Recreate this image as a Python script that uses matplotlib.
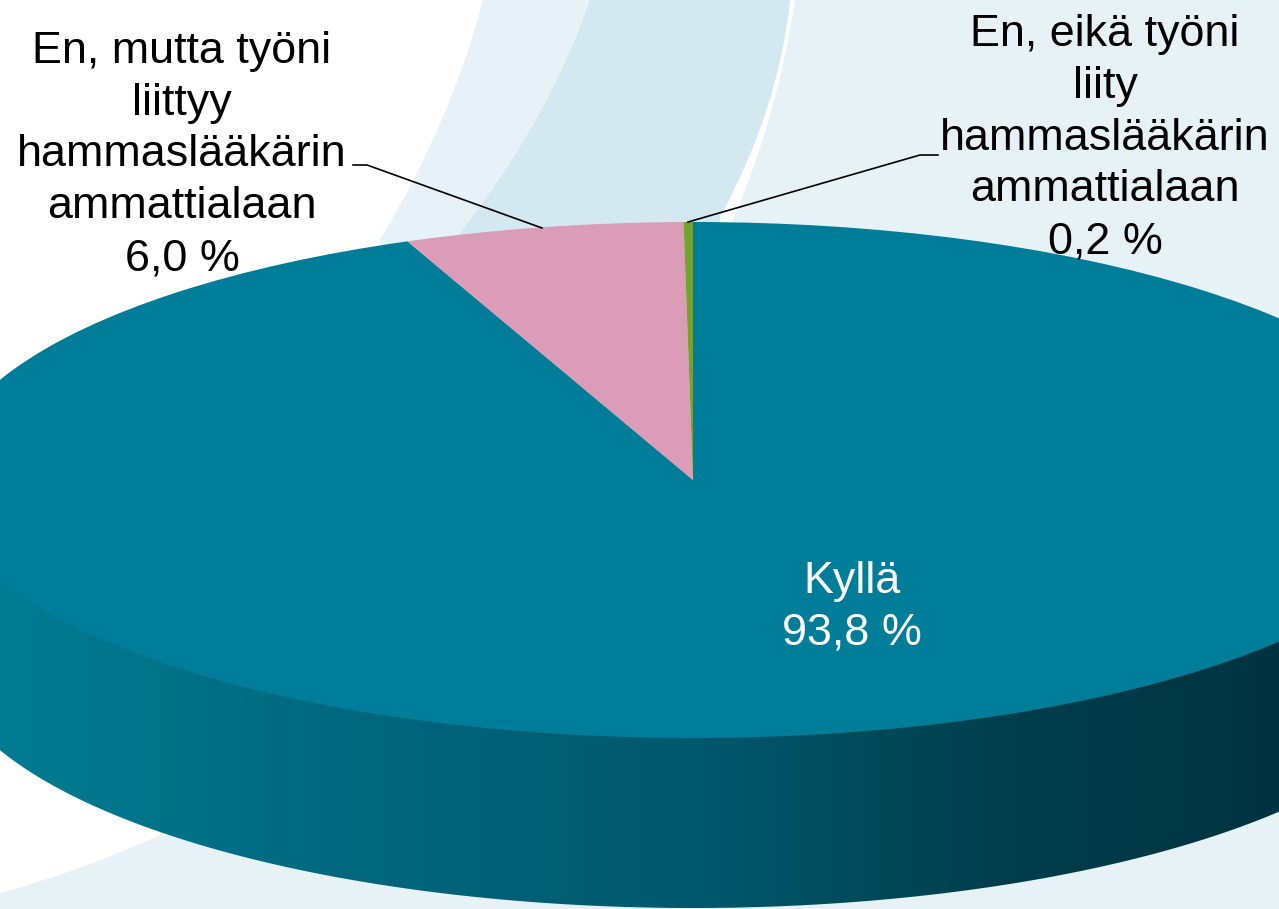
import matplotlib
matplotlib.use("Agg")
import matplotlib.pyplot as plt
import numpy as np
from matplotlib.colors import LinearSegmentedColormap
from matplotlib.patches import PathPatch, Polygon
from matplotlib.path import Path

# Slices, clockwise from twelve o'clock
values = [93.8, 6.0, 0.2]
colors = ["#007d98", "#db9cb8", "#76a232"]
label_yes = "Kyllä\n93,8 %"
label_related = "En, mutta työni\nliittyy\nhammaslääkärin\nammattialaan\n6,0 %"
label_unrelated = "En, eikä työni\nliity\nhammaslääkärin\nammattialaan\n0,2 %"

W, H = 1279, 909
CX, CY = 693, 480    # pie centre
RX, RY = 752, 258    # ellipse radii
DEPTH = 170

plt.rcParams["font.family"] = ["Liberation Sans", "DejaVu Sans"]
fig = plt.figure(figsize=(W / 100, H / 100), dpi=100, facecolor="white")


def swoosh(axes, p0, ctrl0, p1, rest, color, ctrl1=None, p2=None):
    """Area with a curved edge p0-p1, straight through rest, optional curve back to p2"""
    verts = [p0, ctrl0, p1] + rest
    codes = [Path.MOVETO, Path.CURVE3, Path.CURVE3] + [Path.LINETO] * len(rest)
    if ctrl1 is not None:
        verts += [ctrl1, p2]
        codes += [Path.CURVE3, Path.CURVE3]
    verts.append(p0)
    codes.append(Path.CLOSEPOLY)
    axes.add_patch(PathPatch(Path(verts, codes), facecolor=color, edgecolor="none"))


# background, pixel coordinates
bg = fig.add_axes([0, 0, 1, 1], zorder=0)
bg.set_xlim(0, W)
bg.set_ylim(H, 0)
bg.axis("off")
swoosh(bg, (483, 0), (452, 120), (380, 240), [(380, 480), (720, 480), (720, 217)], "#e6f2f7", (779, 108), (790, 0))
swoosh(bg, (590, 0), (551, 116), (460, 233), [(460, 480), (720, 480), (720, 217)], "#d4e8f1", (779, 108), (790, 0))
swoosh(bg, (795, 0), (779, 110), (733, 220), [(733, 480), (1279, 480), (1279, 0)], "#e7f2f7")
swoosh(bg, (0, 893), (85, 870), (160, 835), [(400, 780), (1279, 780), (1279, 909), (0, 909)], "#e7f2f7")

# pie, one unit is one radius; non equal aspect squashes the circle
ax = fig.add_axes([0, 0, 1, 1], zorder=1)
ax.patch.set_alpha(0)
ax.pie(values, colors=colors, startangle=90, counterclock=False, radius=1,
       wedgeprops={"linewidth": 0})

# side of the disc with a dark gradient, runs under the pie to avoid a seam
t = np.linspace(np.pi, 2 * np.pi, 300)
low_edge = np.column_stack([np.cos(t), np.sin(t) - DEPTH / RY])
side = Polygon(np.vstack([low_edge, [[1, 0], [-1, 0]]]), closed=True, transform=ax.transData,
               facecolor="none", edgecolor="none")
ax.add_patch(side)
shade = LinearSegmentedColormap.from_list("side", [
    (0.0, "#007c92"), (0.3, "#00667c"), (0.55, "#00586c"),
    (0.78, "#003f4e"), (1.0, "#003340")])
im = ax.imshow(np.linspace(0, 1, 512).reshape(1, -1), cmap=shade, aspect="auto",
               extent=[-CX / RX, (W - CX) / RX, -2, 0], zorder=0.5)
im.set_clip_path(side)
ax.set_aspect("auto")
ax.set_xlim(-CX / RX, (W - CX) / RX)
ax.set_ylim((CY - H) / RY, CY / RY)
ax.axis("off")

# labels and leaders, pixel coordinates again
fg = fig.add_axes([0, 0, 1, 1], zorder=2)
fg.patch.set_alpha(0)
fg.set_xlim(0, W)
fg.set_ylim(H, 0)
fg.axis("off")
fs = 32.3
fg.text(182, 155, label_related, ha="center", va="center", fontsize=fs, linespacing=1.34, color="black")
fg.text(1105, 138, label_unrelated, ha="center", va="center", fontsize=fs, linespacing=1.34, color="black")
fg.text(852, 607, label_yes, ha="center", va="center", fontsize=fs, linespacing=1.34, color="white")
fg.plot([353, 367, 542], [165, 165, 228], color="black", lw=1.2)
fg.plot([938, 920, 688], [155, 155, 222], color="black", lw=1.2)

fig.savefig("out.png", dpi=100)
